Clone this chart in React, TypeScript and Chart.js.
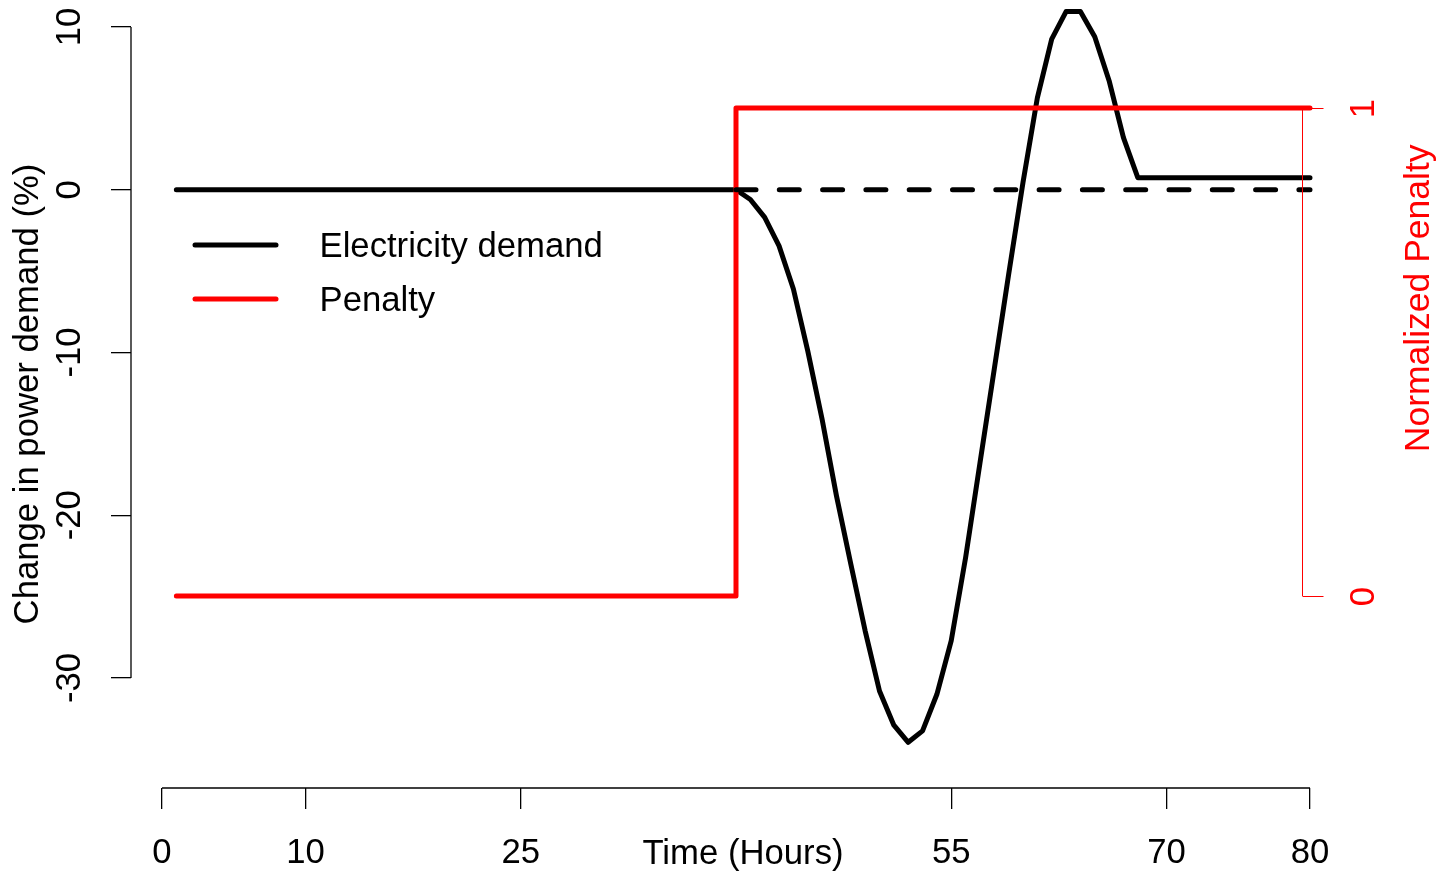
import React, { useEffect, useRef } from 'react';
import { Chart, registerables } from 'chart.js';

Chart.register(...registerables);

// ---------- data ----------
const hours = [
  1, 2, 3, 4, 5, 6, 7, 8, 9, 10, 11, 12, 13, 14, 15, 16, 17, 18, 19, 20,
  21, 22, 23, 24, 25, 26, 27, 28, 29, 30, 31, 32, 33, 34, 35, 36, 37, 38, 39, 40,
  41, 42, 43, 44, 45, 46, 47, 48, 49, 50, 51, 52, 53, 54, 55, 56, 57, 58, 59, 60,
  61, 62, 63, 64, 65, 66, 67, 68, 69, 70, 71, 72, 73, 74, 75, 76, 77, 78, 79, 80,
];

const demandChange = [
  0, 0, 0, 0, 0, 0, 0, 0, 0, 0, 0, 0, 0, 0, 0, 0, 0, 0, 0, 0,
  0, 0, 0, 0, 0, 0, 0, 0, 0, 0, 0, 0, 0, 0, 0, 0, 0, 0, 0, 0,
  -0.6, -1.7, -3.45, -6.1, -9.9, -14.1, -18.8, -23.0, -27.1, -30.8,
  -32.9, -33.95, -33.25, -31.0, -27.7, -22.6, -16.8, -11.0, -5.2, 0.45,
  5.65, 9.25, 10.95, 10.95, 9.4, 6.7, 3.2, 0.74, 0.74, 0.74,
  0.74, 0.74, 0.74, 0.74, 0.74, 0.74, 0.74, 0.74, 0.74, 0.74,
];

const baselineHours = [40, 80];
const baselineChange = [0, 0];

const penaltyHours = [1, 40, 40, 80];
const penaltyLevel = [0, 0, 1, 1];

const xTicks = [0, 10, 25, 55, 70, 80];
const xTickLabels = ['0', '10', '25', '55', '70', '80'];
const yTicks = [-30, -20, -10, 0, 10];
const yTickLabels = ['-30', '-20', '-10', '0', '10'];
const penaltyTicks = [0, 1];
const penaltyTickLabels = ['0', '1'];

const legendLabels = ['Electricity demand', 'Penalty'];

// ---------- layout / style constants ----------
const FONT = "'Liberation Sans', Arial, Helvetica, sans-serif";
const FS = 34.7;
const penaltyAxisAt = 79.44; // x value where the right axis sits
const penaltyTitleAt = 0.61; // penalty value at which right title is centred

const pairs = (xs: number[], ys: number[]) => xs.map((x, i) => ({ x, y: ys[i] }));

const rAxesPlugin = {
  id: 'rAxes',
  afterDraw(chart: any) {
    const { ctx, chartArea, scales } = chart;
    const x = scales.x;
    const y = scales.y;
    const y1 = scales.y1;
    ctx.save();
    ctx.strokeStyle = '#000';
    ctx.lineWidth = 1.3;
    ctx.beginPath();
    ctx.moveTo(x.getPixelForValue(xTicks[0]), chartArea.bottom);
    ctx.lineTo(x.getPixelForValue(xTicks[xTicks.length - 1]), chartArea.bottom);
    ctx.stroke();
    ctx.beginPath();
    ctx.moveTo(chartArea.left, y.getPixelForValue(yTicks[0]));
    ctx.lineTo(chartArea.left, y.getPixelForValue(yTicks[yTicks.length - 1]));
    ctx.stroke();

    const rx = Math.round(x.getPixelForValue(penaltyAxisAt)) + 0.5;
    ctx.strokeStyle = '#ff0000';
    ctx.lineWidth = 1;
    ctx.beginPath();
    ctx.moveTo(rx, y1.getPixelForValue(penaltyTicks[0]));
    ctx.lineTo(rx, y1.getPixelForValue(penaltyTicks[penaltyTicks.length - 1]));
    ctx.stroke();
    ctx.fillStyle = '#ff0000';
    ctx.font = `${FS}px ${FONT}`;
    ctx.textAlign = 'center';
    ctx.textBaseline = 'middle';
    penaltyTicks.forEach((v, i) => {
      const py = Math.round(y1.getPixelForValue(v)) + 0.5;
      ctx.beginPath();
      ctx.moveTo(rx, py);
      ctx.lineTo(rx + 21, py);
      ctx.stroke();
      ctx.save();
      ctx.translate(rx + 62, py);
      ctx.rotate(-Math.PI / 2);
      ctx.fillText(penaltyTickLabels[i], 0, 0);
      ctx.restore();
    });
    ctx.save();
    ctx.font = `${FS + 0.8}px ${FONT}`;
    ctx.translate(rx + 117, y1.getPixelForValue(penaltyTitleAt));
    ctx.rotate(-Math.PI / 2);
    ctx.fillText('Normalized Penalty', 0, 0);
    ctx.restore();
    ctx.restore();
  },
};

const LEGEND = { lineX0: 195, lineX1: 276, textX: 319.5, top: 245, rowGap: 54 };

const rLegendPlugin = {
  id: 'rLegend',
  afterDraw(chart: any) {
    const ctx = chart.ctx;
    ctx.save();
    legendLabels.forEach((label, i) => {
      const ds: any = chart.data.datasets.find((d: any) => d.label === label);
      if (!ds) return;
      const yy = LEGEND.top + i * LEGEND.rowGap;
      ctx.strokeStyle = ds.borderColor;
      ctx.lineWidth = ds.borderWidth;
      ctx.lineCap = 'round';
      ctx.beginPath();
      ctx.moveTo(LEGEND.lineX0, yy);
      ctx.lineTo(LEGEND.lineX1, yy);
      ctx.stroke();
      ctx.fillStyle = '#000';
      ctx.font = `${FS}px ${FONT}`;
      ctx.textAlign = 'left';
      ctx.textBaseline = 'middle';
      ctx.fillText(label, LEGEND.textX, yy + 2);
    });
    ctx.restore();
  },
};

export default function App() {
  const canvasRef = useRef<HTMLCanvasElement | null>(null);

  useEffect(() => {
    document.body.style.margin = '0';
    document.body.style.overflow = 'hidden';
    const canvas = canvasRef.current;
    if (!canvas) return;
    Chart.defaults.font.family = FONT;
    Chart.defaults.color = '#000';

    const chart = new Chart(canvas, {
      type: 'line',
      data: {
        datasets: [
          {
            label: '',
            data: pairs(baselineHours, baselineChange),
            yAxisID: 'y',
            borderColor: '#000000',
            borderWidth: 5,
            borderDash: [20, 23.3],
            borderCapStyle: 'round',
            pointRadius: 0,
            tension: 0,
            fill: false,
          },
          {
            label: 'Penalty',
            data: pairs(penaltyHours, penaltyLevel),
            yAxisID: 'y1',
            borderColor: '#ff0000',
            borderWidth: 5,
            borderCapStyle: 'round',
            borderJoinStyle: 'round',
            pointRadius: 0,
            tension: 0,
            fill: false,
          },
          {
            label: 'Electricity demand',
            data: pairs(hours, demandChange),
            yAxisID: 'y',
            borderColor: '#000000',
            borderWidth: 5,
            borderCapStyle: 'round',
            borderJoinStyle: 'round',
            pointRadius: 0,
            tension: 0,
            fill: false,
          },
        ],
      },
      options: {
        animation: false,
        responsive: false,
        events: [],
        layout: { padding: { left: 0, right: 86, top: 0, bottom: 0 } },
        plugins: {
          legend: { display: false },
          tooltip: { enabled: false },
        },
        scales: {
          x: {
            type: 'linear',
            min: -2.1603,
            max: 83.136,
            afterBuildTicks: (s: any) => {
              s.ticks = xTicks.map((v) => ({ value: v }));
            },
            afterFit: (s: any) => {
              s.height = 83;
              s.paddingLeft = 0;
              s.paddingRight = 0;
            },
            border: { display: false },
            grid: {
              display: true,
              drawOnChartArea: false,
              drawTicks: true,
              tickLength: 21,
              color: '#000',
              lineWidth: 1.3,
            },
            ticks: {
              autoSkip: false,
              minRotation: 0,
              maxRotation: 0,
              padding: 24,
              color: '#000',
              font: { size: FS },
              callback: (v: any) => {
                const i = xTicks.indexOf(Number(v));
                return i >= 0 ? xTickLabels[i] : '';
              },
            },
            title: {
              display: true,
              text: 'Time (Hours)',
              color: '#000',
              font: { size: FS, lineHeight: 1.15 },
              padding: { top: 0, bottom: -3 },
            },
          },
          y: {
            type: 'linear',
            position: 'left',
            min: -36.759,
            max: 11.659,
            afterBuildTicks: (s: any) => {
              s.ticks = yTicks.map((v) => ({ value: v }));
            },
            afterFit: (s: any) => {
              s.width = 131;
              s.paddingTop = 0;
              s.paddingBottom = 0;
            },
            border: { display: false },
            grid: {
              display: true,
              drawOnChartArea: false,
              drawTicks: true,
              tickLength: 20,
              color: '#000',
              lineWidth: 1.3,
            },
            ticks: {
              autoSkip: false,
              minRotation: 90,
              maxRotation: 90,
              crossAlign: 'center',
              padding: 15.4,
              color: '#000',
              font: { size: FS },
              callback: (v: any) => {
                const i = yTicks.indexOf(Number(v));
                return i >= 0 ? yTickLabels[i] : '';
              },
            },
            title: {
              display: true,
              text: 'Change in power demand (%)',
              color: '#000',
              font: { size: FS },
              padding: { top: 8, bottom: 0 },
            },
          },
          y1: {
            type: 'linear',
            display: false,
            min: -0.3934,
            max: 1.2213,
          },
        },
      },
      plugins: [rAxesPlugin, rLegendPlugin],
    } as any);

    return () => {
      chart.destroy();
    };
  }, []);

  return (
    <div style={{ width: 1441, height: 871, position: 'relative' }}>
      <canvas ref={canvasRef} width={1441} height={871} style={{ display: 'block' }} />
    </div>
  );
}
